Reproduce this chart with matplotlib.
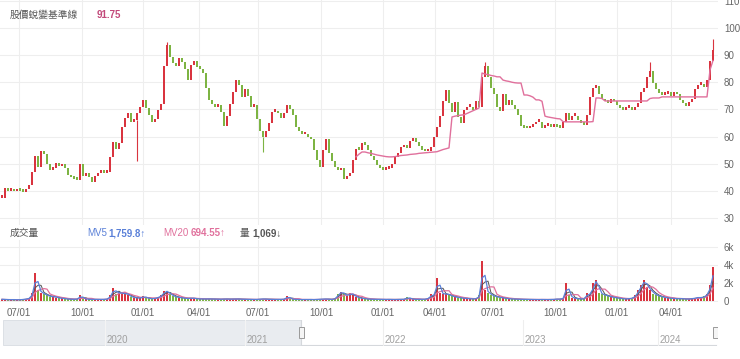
import matplotlib
matplotlib.use("Agg")
import matplotlib.pyplot as plt
import numpy as np
import pandas as pd
from matplotlib.patches import Rectangle

plt.rcParams['font.family'] = ['Noto Sans CJK TC', 'DejaVu Sans']

# closing prices, one candle per ~week
close = [37.5, 41.0, 40.0, 40.5, 39.8, 40.3, 40.0, 39.7, 40.6, 42.0,
         47.0, 53.0, 48.8, 54.5, 53.5, 50.0, 47.7, 48.5, 50.3, 49.0,
         50.0, 48.5, 46.0, 45.0, 44.5, 44.0, 50.0, 45.5, 46.5, 45.0,
         43.3, 45.5, 46.6, 46.8, 46.5, 47.0, 52.5, 58.0, 55.5, 57.5,
         63.5, 67.0, 68.5, 65.5, 66.0, 68.7, 71.0, 73.5, 70.5, 68.0,
         65.5, 66.5, 69.8, 72.0, 86.0, 93.7, 89.3, 87.0, 86.0, 89.0,
         87.5, 85.0, 80.8, 86.5, 88.0, 85.6, 85.0, 83.5, 78.0, 73.5,
         72.0, 70.9, 71.5, 69.0, 64.0, 67.5, 72.0, 76.4, 81.0, 79.0,
         74.6, 77.5, 75.0, 71.0, 71.5, 66.5, 62.0, 60.0, 62.0, 65.0,
         69.0, 69.5, 68.5, 67.0, 68.5, 71.6, 70.0, 68.0, 63.5, 62.0,
         60.8, 61.0, 60.0, 59.0, 55.0, 51.5, 48.8, 55.0, 59.0, 54.0,
         51.0, 48.8, 47.5, 48.5, 44.5, 45.5, 46.6, 51.4, 55.5, 55.0,
         57.5, 57.0, 55.0, 53.0, 51.5, 49.5, 48.5, 47.7, 48.0, 48.5,
         50.0, 52.5, 54.0, 56.0, 56.0, 55.8, 58.5, 59.5, 58.0, 56.5,
         55.0, 54.5, 54.5, 56.0, 60.0, 63.5, 67.5, 73.0, 77.0, 72.5,
         69.0, 72.7, 67.2, 65.0, 69.8, 71.0, 71.0, 69.8, 73.0, 71.0,
         82.0, 86.0, 82.0, 78.0, 75.5, 71.0, 69.5, 75.5, 71.5, 73.5,
         71.5, 70.0, 68.0, 64.0, 63.2, 63.0, 63.5, 64.5, 65.5, 65.5,
         63.2, 64.0, 64.3, 63.5, 63.8, 63.5, 63.2, 65.5, 68.5, 66.0,
         67.5, 67.5, 66.0, 65.0, 64.3, 68.0, 74.6, 77.9, 78.5, 75.5,
         74.0, 73.0, 72.4, 74.0, 73.0, 71.6, 70.5, 69.8, 70.5, 70.5,
         69.8, 70.8, 72.5, 76.5, 78.0, 82.0, 84.0, 79.7, 77.5, 76.0,
         75.3, 75.8, 76.4, 75.0, 76.5, 75.5, 73.5, 72.5, 71.2, 72.7,
         73.8, 77.5, 79.0, 79.5, 78.3, 81.0, 88.0, 91.75]

volume = [150, 120, 100, 130, 110, 100, 120, 150, 200, 300,
          900, 3100, 1200, 900, 700, 600, 400, 500, 350, 300,
          250, 200, 180, 160, 150, 200, 600, 200, 180, 150,
          140, 150, 130, 140, 150, 200, 600, 1400, 800, 1000,
          700, 900, 600, 400, 350, 300, 300, 500, 300, 250,
          200, 300, 400, 600, 1100, 1000, 700, 500, 400, 350,
          300, 250, 250, 300, 250, 200, 200, 180, 200, 200,
          180, 160, 180, 150, 200, 180, 160, 200, 200, 180,
          150, 160, 150, 140, 130, 150, 180, 200, 160, 150,
          140, 130, 150, 140, 180, 500, 200, 150, 140, 130,
          120, 140, 150, 120, 130, 150, 160, 200, 180, 150,
          140, 300, 800, 1000, 700, 500, 900, 600, 400, 300,
          250, 200, 180, 160, 150, 150, 140, 130, 150, 140,
          130, 120, 140, 150, 160, 400, 200, 150, 160, 150,
          140, 180, 300, 700, 600, 2600, 900, 700, 800, 600,
          500, 400, 350, 300, 250, 250, 200, 200, 250, 600,
          4500, 1200, 900, 600, 500, 400, 350, 300, 250, 200,
          200, 180, 150, 160, 140, 150, 130, 140, 120, 130,
          140, 120, 130, 140, 150, 200, 150, 300, 2000, 600,
          300, 250, 200, 180, 250, 900, 600, 2000, 2300, 900,
          700, 600, 500, 400, 350, 300, 250, 200, 200, 250,
          300, 600, 1200, 1800, 2300, 1500, 1200, 800, 600, 500,
          400, 350, 300, 250, 250, 200, 250, 200, 180, 200,
          250, 300, 400, 300, 500, 800, 1800, 3800]

# 股價蛻變基準線 (starts at candle 118)
baseline_start = 118
baseline = [52.5, 53.5, 54.3, 54.3, 54.0, 53.8, 53.5, 53.2, 53.0, 52.8,
            52.6, 52.5, 52.5, 52.6, 52.8, 53.0, 53.1, 53.2, 53.4, 53.5,
            53.6, 53.8, 53.9, 54.0, 54.1, 54.2, 54.3, 54.4, 54.8, 55.2,
            55.5, 55.8, 67.2, 67.5, 67.7, 67.9, 68.0, 68.5, 69.0, 69.5,
            70.0, 70.5, 83.4, 83.0, 82.8, 82.5, 82.3, 82.0, 82.0, 80.8,
            80.5, 80.3, 80.0, 79.8, 79.7, 79.7, 75.3, 75.3, 75.0, 74.5,
            73.5, 73.5, 73.0, 67.5, 67.2, 67.0, 66.8, 66.6, 66.5, 65.5,
            65.4, 65.4, 65.4, 65.4, 65.4, 65.4, 65.4, 65.4, 65.4, 65.5,
            74.2, 74.2, 74.0, 73.1, 73.1, 73.1, 73.1, 73.1, 73.1, 73.1,
            73.1, 73.1, 73.1, 73.1, 73.1, 73.1, 73.1, 73.1, 74.0, 74.2,
            74.2, 74.2, 74.6, 74.6, 74.6, 74.6, 74.6, 74.6, 74.6, 74.6,
            74.6, 74.6, 74.6, 74.6, 74.6, 74.6, 74.6, 74.6, 84.5, 88.0]

# long shadows that stand out
wick_idx = [45, 87, 55, 161, 216, 237]
wick_val = [51.0, 54.3, 95.0, 87.5, 87.5, 96.0]

tick_pos = [5.67, 26.67, 47, 65.67, 85.33, 106.33, 127, 144.33, 163.67, 184.33, 205, 223]
tick_labels = ['07/01', '10/01', '01/01', '04/01'] * 3
price_ticks = [30, 40, 50, 60, 70, 80, 90, 100, 110]
vol_ticks = [0, 2000, 4000, 6000]
vol_tick_labels = ['0', '2k', '4k', '6k']
nav_years = ['2020', '2021', '2022', '2023', '2024']
nav_year_px = [105, 245, 383, 523, 658]

RED = '#d9343f'
GREEN = '#7db443'
PINK = '#e0709c'
BLUE = '#5a80d8'
GRID = '#eeeeee'
TXT = '#666666'
LAT = ['Liberation Sans', 'Noto Sans CJK TC', 'DejaVu Sans']

W, H = 740, 359


def box(x0, y0, x1, y1):
    return [x0 / W, 1 - y1 / H, (x1 - x0) / W, (y1 - y0) / H]


fig = plt.figure(figsize=(W / 100, H / 100), dpi=100)
ax = fig.add_axes(box(0, 0, 718, 225))
axv = fig.add_axes(box(0, 240, 718, 302))
axn = fig.add_axes(box(0, 320, 718, 346))

c = np.array(close)
o = np.r_[c[0], c[:-1]]
idx = np.arange(len(c))
up = c >= o
cols = np.where(up, RED, GREEN)
lo = np.minimum(o, c)
hgt = np.maximum(np.abs(c - o), 1.0)

# price panel
for i, v in zip(wick_idx, wick_val):
    ref = lo[i] + hgt[i] if v > c[i] else lo[i]
    ax.vlines(i, min(ref, v), max(ref, v), color=cols[i], lw=0.8, zorder=2)
ax.bar(idx, hgt, bottom=lo, width=0.9, color=cols, linewidth=0, zorder=3)
bidx = np.arange(baseline_start, baseline_start + len(baseline))
ax.plot(bidx, baseline, color=PINK, lw=1, zorder=4)

xlim = (-0.67, 238.67)
ax.set_xlim(*xlim)
ax.set_ylim(27.4, 110.3)
ax.set_yticks(price_ticks)
ax.set_xticks(tick_pos)
ax.set_xticklabels([])
ax.yaxis.tick_right()
ax.tick_params(axis='y', length=0, pad=4.3, labelsize=7, labelcolor=TXT)
ax.tick_params(axis='x', length=0)
ax.grid(color=GRID, lw=0.8, zorder=0)

# volume panel
vs = pd.Series(volume)
axv.bar(idx, volume, width=0.6, color=cols, linewidth=0, zorder=3)
axv.plot(idx, vs.rolling(3, min_periods=1).mean(), color='#555555', lw=0.7, zorder=4)
axv.plot(idx, vs.rolling(5, min_periods=1).mean(), color=PINK, lw=0.9, zorder=4)
axv.plot(idx, vs.rolling(2, min_periods=1).mean(), color=BLUE, lw=0.9, zorder=4)
axv.set_xlim(*xlim)
axv.set_ylim(-146, 6820)
axv.set_yticks(vol_ticks)
axv.set_yticklabels(vol_tick_labels)
axv.yaxis.tick_right()
axv.set_xticks(tick_pos)
axv.set_xticklabels(tick_labels)
axv.tick_params(axis='y', length=0, pad=4.3, labelsize=7, labelcolor=TXT)
axv.tick_params(axis='x', length=0, pad=4, labelsize=7, labelcolor=TXT)
axv.grid(color=GRID, lw=0.8, zorder=0)
for lab in ax.get_yticklabels() + axv.get_yticklabels() + axv.get_xticklabels():
    lab.set_family(LAT)

for a in (ax, axv, axn):
    for s in a.spines.values():
        s.set_visible(False)

# navigator
axn.set_xlim(0, 718)
axn.set_ylim(0, 26)
axn.set_xticks([])
axn.set_yticks([])
axn.patch.set_alpha(0)
axn.add_patch(Rectangle((3, 1), 298, 25, facecolor='#e9ecf0', edgecolor='#d8dce2', lw=0.6))
axn.plot([301, 716], [1, 1], color='#d5d8dc', lw=0.8)
axn.plot([301, 301], [1, 26], color='#d5d8dc', lw=0.8)
for px, yr in zip(nav_year_px, nav_years):
    axn.plot([px, px], [1, 26], color='#f4f4f4' if px < 301 else '#eeeeee', lw=0.8)
    axn.text(px + 2, 6, yr, fontsize=7, color='#a0a0a0', va='center', ha='left', family=LAT)
for px in (301, 715):
    axn.add_patch(Rectangle((px - 2.5, 8), 5, 11, facecolor='#f5f5f5', edgecolor='#9a9a9a', lw=0.7, zorder=5))

# headers
def t(x, y, s, **kw):
    fig.text(x / W, 1 - y / H, s, va='center', ha='left', **kw)

t(10, 15, '股價蛻變基準線', fontsize=7, color='#555555')
t(97, 15, '91.75', fontsize=7, color='#c2497a', fontweight='bold', family=LAT)
t(10, 233, '成交量', fontsize=7, color='#555555')
t(87, 233, 'MV5', fontsize=7, color=BLUE, family=LAT)
t(108, 233, '1,759.8↑', fontsize=7, color=BLUE, fontweight='bold', family=LAT)
t(163, 233, 'MV20', fontsize=7, color=PINK, family=LAT)
t(191, 233, '694.55↑', fontsize=7, color=PINK, fontweight='bold', family=LAT)
t(240, 233, '量', fontsize=7, color='#555555')
t(252, 233, '1,069↓', fontsize=7, color='#555555', fontweight='bold', family=LAT)

fig.savefig('out.png', dpi=100)
